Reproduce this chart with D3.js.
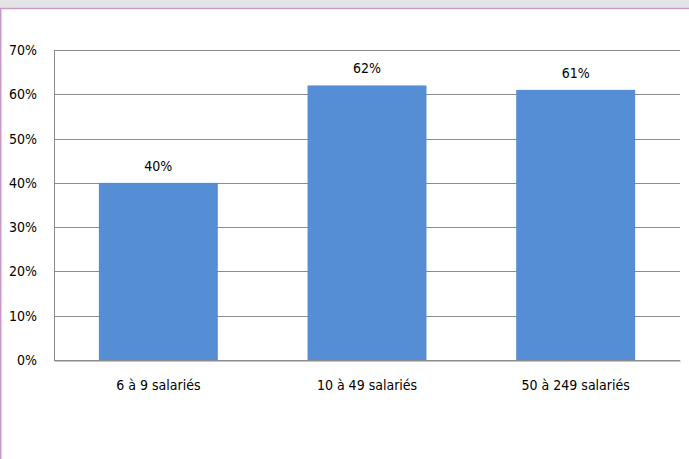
<!DOCTYPE html>
<html>
<head>
<meta charset="utf-8">
<script src="https://cdn.jsdelivr.net/npm/d3@7"></script>
<style>
  body { margin: 0; background: #fff; }
  svg { display: block; }
</style>
</head>
<body>
<svg class="chart"></svg>
<script>
const categories = ["6 à 9 salariés", "10 à 49 salariés", "50 à 249 salariés"];
const values = [0.40, 0.62, 0.61];
const valueLabels = ["40%", "62%", "61%"];
const yTicks = [0, 0.1, 0.2, 0.3, 0.4, 0.5, 0.6, 0.7];

const width = 689, height = 459;
const margin = {top: 50, right: 9, bottom: 99, left: 54};
const font = "'Liberation Sans Narrow', 'DejaVu Sans Condensed', sans-serif";

const svg = d3.select(".chart")
  .attr("width", width)
  .attr("height", height);

// frame bits: grey band on top, pink rule, pink left edge
svg.append("rect").attr("x", 0).attr("y", 0).attr("width", width).attr("height", 8).attr("fill", "#e4e4e4");
svg.append("line").attr("x1", 0).attr("x2", width).attr("y1", 8.5).attr("y2", 8.5)
  .attr("stroke", "#c99bc9").attr("stroke-width", 1.5);
svg.append("line").attr("x1", 0.75).attr("x2", 0.75).attr("y1", 8).attr("y2", height)
  .attr("stroke", "#c99bc9").attr("stroke-width", 1.5);

const x = d3.scaleBand()
  .domain(categories)
  .range([margin.left, width - margin.right])
  .paddingInner(0.43)
  .paddingOuter(0.215);

const y = d3.scaleLinear()
  .domain([0, 0.7])
  .range([height - margin.bottom, margin.top]);

const g = svg.append("g").attr("font-family", font);

// gridlines
g.append("g")
  .selectAll("line")
  .data(yTicks)
  .enter().append("line")
    .attr("x1", margin.left)
    .attr("x2", width - margin.right)
    .attr("y1", d => Math.round(y(d)) + 0.5)
    .attr("y2", d => Math.round(y(d)) + 0.5)
    .attr("stroke", "#8c8c8c")
    .attr("stroke-width", 1);

// y axis
const yAxis = g.append("g")
  .attr("transform", `translate(${margin.left},0)`)
  .call(d3.axisLeft(y).tickValues(yTicks).tickFormat(d3.format(".0%")).tickSize(0).tickPadding(17));
yAxis.select(".domain").attr("stroke", "#8c8c8c");
yAxis.selectAll("text").attr("font-size", 14).attr("fill", "#000").attr("font-family", font);

// bars
g.append("g")
  .selectAll("rect")
  .data(values)
  .enter().append("rect")
    .attr("x", (d, i) => x(categories[i]))
    .attr("y", d => y(d))
    .attr("width", x.bandwidth())
    .attr("height", d => y(0) - y(d))
    .attr("fill", "#558ed5");

// value labels
g.append("g")
  .selectAll("text")
  .data(values)
  .enter().append("text")
    .attr("x", (d, i) => x(categories[i]) + x.bandwidth() / 2)
    .attr("y", d => y(d) - 12)
    .attr("text-anchor", "middle")
    .attr("font-size", 14)
    .text((d, i) => valueLabels[i]);

// x axis
const xAxis = g.append("g")
  .attr("transform", `translate(0,${Math.round(y(0)) + 0.5})`)
  .call(d3.axisBottom(x).tickSize(0).tickPadding(20));
xAxis.select(".domain").attr("stroke", "#8c8c8c");
xAxis.selectAll("text").attr("font-size", 14).attr("fill", "#000").attr("font-family", font);
</script>
</body>
</html>
